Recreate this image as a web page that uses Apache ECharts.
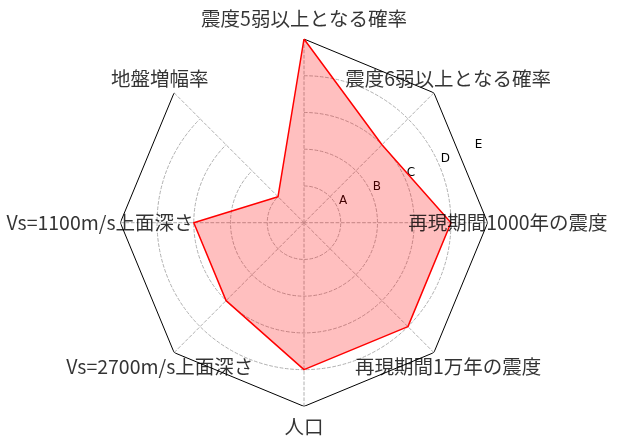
<!DOCTYPE html>
<html><head><meta charset="utf-8">
<script src="https://cdn.jsdelivr.net/npm/echarts@6/dist/echarts.min.js"></script>
<style>html,body{margin:0;padding:0;background:#fff}#c{width:618px;height:446px}</style>
</head><body><div id="c"></div>
<script>
const categories = ['震度5弱以上となる確率','震度6弱以上となる確率','再現期間1000年の震度','再現期間1万年の震度','人口','Vs=2700m/s上面深さ','Vs=1100m/s上面深さ','地盤増幅率'];
const values = [5, 3, 4, 4, 4, 3, 3, 1];
const levelLabels = ['', 'A', 'B', 'C', 'D', 'E'];
const maxLevel = 5;

const chart = echarts.init(document.getElementById('c'), null, {renderer: 'canvas'});
// radar runs counter-clockwise; reorder so the drawing goes clockwise from the top
const order = [0].concat(categories.map((c, i) => i).slice(1).reverse());
const radarIndicators = order.map(i => ({name: categories[i], min: 0, max: maxLevel}));
const radarValues = order.map(i => values[i]);
const frameData = categories.map(c => [maxLevel, c]).concat([[maxLevel, categories[0]]]);
const labelRadius = maxLevel * 1.11;
const nameData = categories.map(c => ({name: c, value: [labelRadius, c]}));
const gridColor = '#b0b0b0';
const gridDash = [3.7, 1.6];
const center = [304, 222.7], radius = 183.7;
const labelFont = "'Noto Sans CJK JP', sans-serif";
const circleColors = levelLabels.map((l, i) => i === maxLevel ? 'rgba(0,0,0,0)' : gridColor);

const option = {
  animation: false,
  polar: [{center: center, radius: radius}, {center: center, radius: radius}],
  radar: {
    center: center, radius: radius, startAngle: 90, shape: 'circle', indicator: radarIndicators,
    axisName: {show: false}, axisLine: {show: false}, axisTick: {show: false}, axisLabel: {show: false},
    splitLine: {show: false}, splitArea: {show: false}
  },
  angleAxis: [
    {polarIndex: 0, type: 'category', data: categories, boundaryGap: false, startAngle: 90, clockwise: true,
     axisLine: {show: false}, axisTick: {show: false}, axisLabel: {show: false},
     splitLine: {show: true, lineStyle: {color: gridColor, type: gridDash, width: 1}}},
    {polarIndex: 1, type: 'value', min: 0, max: 360, startAngle: 22.5, show: false}
  ],
  radiusAxis: [
    {polarIndex: 0, min: 0, max: maxLevel, interval: 1, axisLine: {show: false}, axisTick: {show: false}, axisLabel: {show: false},
     splitLine: {show: true, lineStyle: {color: circleColors, type: gridDash, width: 1}}},
    {polarIndex: 1, min: 0, max: maxLevel, interval: 1, axisLine: {show: false}, axisTick: {show: false}, splitLine: {show: false},
     axisLabel: {formatter: v => levelLabels[v] || '', fontSize: 12, color: '#000', fontFamily: 'DejaVu Sans',
                 align: 'left', padding: [0, 0, 0, 4]}}
  ],
  series: [
    {type: 'line', coordinateSystem: 'polar', polarIndex: 0, data: frameData, symbol: 'none', clip: false,
     lineStyle: {color: '#000', width: 1}, silent: true, z: 1},
    {type: 'radar', radarIndex: 0, symbol: 'none', z: 3,
     data: [{value: radarValues, lineStyle: {color: '#ff0000', width: 1.5},
             areaStyle: {color: 'rgba(255,0,0,0.25)', opacity: 1}}]},
    {type: 'scatter', coordinateSystem: 'polar', polarIndex: 0, data: nameData, clip: false, silent: true,
     symbolSize: 1, itemStyle: {color: 'rgba(0,0,0,0)'}, z: 5,
     label: {show: true, position: 'inside', formatter: '{b}', fontSize: 19.5, color: '#000', fontFamily: labelFont}}
  ]
};
chart.setOption(option);
</script></body></html>
